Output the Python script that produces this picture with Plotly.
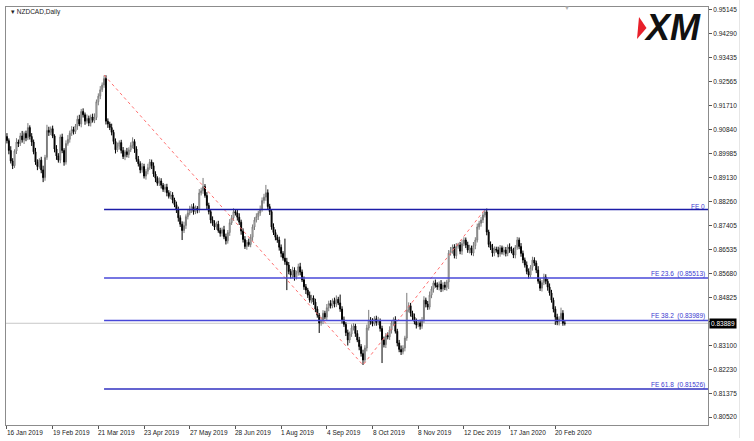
import plotly.graph_objects as go

# ---------------- data ----------------
first_open = 0.9060
closes = [
    0.9045, 0.9010, 0.8972, 0.8955, 0.9008, 0.9040, 0.9035, 0.9062, 0.9048, 0.9071,
    0.9055, 0.9092, 0.9060, 0.9040, 0.9005, 0.8968, 0.8952, 0.8975, 0.8940, 0.8912,
    0.8985, 0.9082, 0.9075, 0.9088, 0.9062, 0.9015, 0.8990, 0.8975, 0.9058, 0.9010,
    0.8968, 0.9035, 0.9050, 0.9072, 0.9085, 0.9078, 0.9098, 0.9122, 0.9105, 0.9150,
    0.9138, 0.9115, 0.9125, 0.9108, 0.9130, 0.9118, 0.9128, 0.9185, 0.9205, 0.9228,
    0.9245, 0.9268, 0.9115, 0.9105, 0.9092, 0.9075, 0.9042, 0.9012, 0.9025, 0.9038,
    0.9010, 0.8988, 0.9005, 0.8995, 0.9012, 0.9028, 0.9042, 0.9015, 0.8978, 0.8962,
    0.8940, 0.8952, 0.8918, 0.8935, 0.8948, 0.8968, 0.8955, 0.8925, 0.8910, 0.8892,
    0.8900, 0.8885, 0.8870, 0.8878, 0.8858, 0.8845, 0.8850, 0.8832, 0.8815, 0.8796,
    0.8768, 0.8745, 0.8722, 0.8740, 0.8772, 0.8785, 0.8798, 0.8808, 0.8790, 0.8802,
    0.8796, 0.8857, 0.8865, 0.8880, 0.8848, 0.8812, 0.8790, 0.8760, 0.8748, 0.8735,
    0.8745, 0.8722, 0.8712, 0.8725, 0.8700, 0.8685, 0.8715, 0.8750, 0.8768, 0.8790,
    0.8785, 0.8770, 0.8752, 0.8720, 0.8690, 0.8665, 0.8680, 0.8672, 0.8698, 0.8735,
    0.8760, 0.8772, 0.8785, 0.8798, 0.8830, 0.8842, 0.8858, 0.8808, 0.8790, 0.8735,
    0.8715, 0.8698, 0.8688, 0.8662, 0.8640, 0.8623, 0.8610, 0.8598, 0.8575, 0.8562,
    0.8580, 0.8555, 0.8570, 0.8592, 0.8573, 0.8545, 0.8520, 0.8508, 0.8490, 0.8472,
    0.8480, 0.8465, 0.8440, 0.8418, 0.8390, 0.8398, 0.8425, 0.8411, 0.8445, 0.8460,
    0.8452, 0.8470, 0.8458, 0.8475, 0.8462, 0.8440, 0.8401, 0.8385, 0.8355, 0.8329,
    0.8350, 0.8372, 0.8379, 0.8352, 0.8329, 0.8305, 0.8280, 0.8257, 0.8300, 0.8372,
    0.8401, 0.8395, 0.8388, 0.8405, 0.8392, 0.8398, 0.8370, 0.8329, 0.8312, 0.8345,
    0.8340, 0.8365, 0.8390, 0.8402, 0.8360, 0.8318, 0.8295, 0.8286, 0.8300, 0.8336,
    0.8437, 0.8452, 0.8425, 0.8411, 0.8395, 0.8383, 0.8390, 0.8378, 0.8401, 0.8472,
    0.8458, 0.8447, 0.8490, 0.8512, 0.8534, 0.8525, 0.8519, 0.8530, 0.8512, 0.8526,
    0.8518, 0.8537, 0.8641, 0.8650, 0.8663, 0.8632, 0.8665, 0.8670, 0.8648, 0.8675,
    0.8688, 0.8670, 0.8652, 0.8660, 0.8641, 0.8668, 0.8688, 0.8735, 0.8748, 0.8760,
    0.8778, 0.8789, 0.8717, 0.8672, 0.8660, 0.8641, 0.8655, 0.8652, 0.8638, 0.8660,
    0.8645, 0.8652, 0.8640, 0.8663, 0.8655, 0.8648, 0.8634, 0.8662, 0.8688, 0.8665,
    0.8640, 0.8616, 0.8598, 0.8575, 0.8562, 0.8590, 0.8616, 0.8605, 0.8580, 0.8540,
    0.8515, 0.8535, 0.8555, 0.8540, 0.8519, 0.8498, 0.8472, 0.8440, 0.8411, 0.8393,
    0.8405, 0.8425, 0.8389, 0.83889,
]
# upper / lower wick lengths in pips
upper_wick_pips = [
    12, 8, 15, 10, 6, 14, 9, 11, 18, 7,
    10, 16, 8, 12, 9, 14, 10, 7, 12, 15,
    9, 20, 13, 8, 11, 6, 14, 10, 9, 12,
    8, 11, 15, 9, 12, 10, 7, 13, 16, 9,
    11, 8, 14, 10, 9, 12, 15, 8, 10, 13,
    9, 11, 12, 10, 8, 14, 9, 11, 13, 8,
    10, 12, 7, 14, 9, 11, 15, 8, 10, 12,
    9, 13, 10, 8, 14, 11, 9, 12, 10, 7,
    13, 10, 8, 11, 12, 9, 14, 10, 8, 11,
    12, 9, 10, 14, 8, 11, 13, 9, 12, 10,
    8, 14, 11, 31, 9, 12, 10, 8, 13, 11,
    9, 12, 10, 8, 14, 11, 9, 13, 10, 12,
    8, 11, 14, 9, 10, 12, 8, 13, 11, 9,
    10, 12, 8, 14, 11, 12, 28, 12, 10, 8,
    13, 11, 9, 12, 10, 8, 70, 14, 11, 9,
    12, 10, 8, 11, 14, 9, 12, 10, 8, 13,
    11, 9, 12, 10, 8, 14, 11, 9, 13, 10,
    12, 8, 11, 14, 9, 30, 10, 12, 8, 11,
    9, 13, 10, 8, 12, 11, 9, 14, 10, 12,
    36, 10, 12, 9, 11, 14, 8, 10, 12, 9,
    11, 13, 10, 8, 12, 9, 11, 14, 10, 8,
    61, 12, 10, 9, 13, 11, 8, 12, 10, 14,
    9, 11, 13, 10, 8, 12, 11, 9, 14, 10,
    12, 8, 11, 13, 9, 10, 12, 8, 11, 14,
    10, 9, 12, 11, 8, 13, 10, 12, 9, 11,
    10, 9, 12, 8, 11, 14, 10, 9, 12, 10,
    8, 12, 11, 9, 13, 10, 12, 8, 11, 9,
    12, 10, 9, 13, 11, 8, 12, 10, 9, 14,
    11, 9, 12, 10, 8, 13, 11, 9, 10, 12,
    9, 20, 11, 8,
]
lower_wick_pips = [
    10, 14, 9, 12, 8, 11, 13, 9, 10, 15,
    12, 8, 11, 14, 9, 10, 13, 8, 12, 16,
    11, 9, 13, 10, 8, 12, 14, 9, 11, 10,
    13, 9, 8, 12, 10, 11, 9, 14, 8, 12,
    10, 13, 9, 11, 12, 8, 10, 9, 13, 11,
    8, 10, 12, 14, 9, 11, 10, 13, 8, 12,
    11, 9, 13, 10, 12, 8, 11, 14, 9, 10,
    12, 10, 9, 13, 11, 8, 12, 10, 14, 9,
    10, 12, 9, 11, 13, 8, 10, 12, 9, 11,
    14, 10, 34, 9, 12, 10, 8, 13, 11, 9,
    12, 10, 9, 11, 8, 13, 10, 12, 9, 11,
    10, 8, 12, 11, 9, 13, 10, 12, 8, 11,
    9, 12, 10, 13, 11, 9, 12, 8, 10, 13,
    11, 9, 12, 10, 8, 11, 13, 9, 12, 10,
    9, 11, 10, 12, 14, 9, 11, 90, 10, 12,
    11, 13, 9, 10, 12, 8, 11, 14, 10, 9,
    12, 10, 11, 9, 36, 10, 12, 8, 11, 13,
    10, 9, 12, 11, 8, 10, 13, 9, 12, 20,
    11, 10, 9, 12, 8, 13, 11, 18, 10, 12,
    9, 11, 10, 8, 12, 10, 11, 83, 10, 12,
    9, 11, 13, 10, 8, 12, 10, 11, 9, 12,
    10, 9, 12, 11, 10, 13, 8, 12, 9, 11,
    12, 10, 9, 11, 13, 8, 10, 12, 11, 9,
    10, 12, 25, 9, 11, 10, 12, 8, 11, 13,
    9, 11, 10, 12, 8, 11, 13, 9, 10, 12,
    11, 9, 12, 10, 8, 13, 11, 9, 12, 10,
    9, 12, 11, 10, 13, 8, 11, 12, 9, 10,
    12, 11, 9, 10, 13, 8, 12, 10, 11, 9,
    10, 12, 9, 11, 13, 10, 9, 12, 28, 11,
    12, 10, 9, 8,
]

date_labels = ["16 Jan 2019", "19 Feb 2019", "21 Mar 2019", "23 Apr 2019", "27 May 2019",
               "28 Jun 2019", "1 Aug 2019", "4 Sep 2019", "8 Oct 2019", "8 Nov 2019",
               "12 Dec 2019", "17 Jan 2020", "20 Feb 2020"]
bars_per_label = 24

price_ticks = [0.95145, 0.94290, 0.93435, 0.92565, 0.91710, 0.90840, 0.89985, 0.89130,
               0.88260, 0.87405, 0.86535, 0.85680, 0.84825, 0.83955, 0.83100, 0.82230,
               0.81375, 0.80520]
# the 0.83955 label is covered by the current-price box in the reference
price_tick_text = ["0.95145", "0.94290", "0.93435", "0.92565", "0.91710", "0.90840",
                   "0.89985", "0.89130", "0.88260", "0.87405", "0.86535", "0.85680",
                   "0.84825", "", "0.83100", "0.82230", "0.81375", "0.80520"]

fe_names = ["FE 0", "FE 23.6  (0.85513)", "FE 38.2  (0.83989)", "FE 61.8  (0.81526)"]
fe_levels = [0.87976, 0.85513, 0.83989, 0.81526]

# swing points of the expansion tool: (bar index, price)
swing_bars = [51, 187, 251]
swing_prices = [0.92809, 0.82390, 0.87976]

last_price = 0.83889

# ---------------- build OHLC ----------------
n = min(len(closes), len(upper_wick_pips), len(lower_wick_pips))
closes = closes[:n]
opens = [first_open] + closes[:-1]
highs = [max(o, c) + u / 10000 for o, c, u in zip(opens, closes, upper_wick_pips)]
lows = [min(o, c) - l / 10000 for o, c, l in zip(opens, closes, lower_wick_pips)]
xs = list(range(n))

# ---------------- geometry ----------------
W, H = 754, 441
L, R, T, B = 6, 708, 7, 425
x_range = [-0.5, 368.2]
y_range = [0.80234, 0.95252]
FONT = "Liberation Sans"


def px(xp):
    return (xp - L) / (R - L)


def py(yp):
    return (B - yp) / (B - T)


fig = go.Figure()

fig.add_trace(go.Candlestick(
    x=xs, open=opens, high=highs, low=lows, close=closes,
    increasing=dict(line=dict(color="#7a7a7a", width=1), fillcolor="#ffffff"),
    decreasing=dict(line=dict(color="#000000", width=1), fillcolor="#000000"),
    whiskerwidth=0, showlegend=False, hoverinfo="skip",
))

# red dotted expansion path
fig.add_trace(go.Scatter(
    x=swing_bars, y=swing_prices, mode="lines",
    line=dict(color="#ff7070", width=1, dash="dot"),
    showlegend=False, hoverinfo="skip",
))

shapes = []
# last price line
shapes.append(dict(type="line", xref="paper", yref="y", x0=0, x1=1,
                   y0=last_price, y1=last_price, line=dict(color="#c8c8c8", width=1),
                   layer="below"))
# FE levels
fe_colors = ["#1c1ca8", "#4848d8", "#4848d8", "#3030c0"]
for lvl, col in zip(fe_levels, fe_colors):
    shapes.append(dict(type="line", xref="x", yref="y", x0=swing_bars[0], x1=x_range[1],
                       y0=lvl, y1=lvl, line=dict(color=col, width=1.6)))
# window edge line
shapes.append(dict(type="line", xref="paper", yref="paper", x0=px(739.5), x1=px(739.5),
                   y0=py(0), y1=py(438), line=dict(color="#e6e6e6", width=1)))
# XM logo red wedge
shapes.append(dict(type="path", xref="paper", yref="paper",
                   path=f"M {px(639)} {py(17)} L {px(646.5)} {py(28)} L {px(637)} {py(39)} Z",
                   fillcolor="#e8202a", line=dict(width=0)))

annotations = []
for lvl, name in zip(fe_levels, fe_names):
    annotations.append(dict(x=1, xref="paper", y=lvl, yref="y", text=name,
                            xanchor="right", yanchor="bottom", showarrow=False,
                            font=dict(family=FONT, size=6.5, color="#3a3ad0"),
                            xshift=-1, yshift=-2))
# date labels (left aligned at tick)
for k, lab in enumerate(date_labels):
    annotations.append(dict(x=k * bars_per_label, xref="x", y=0, yref="paper", text=lab,
                            xanchor="left", yanchor="top", showarrow=False, xshift=-2,
                            yshift=-2,
                            font=dict(family=FONT, size=6.5, color="#222222")))
# last price box
annotations.append(dict(x=1, xref="paper", y=last_price, yref="y", text="0.83889",
                        xanchor="left", yanchor="middle", showarrow=False, xshift=1,
                        bgcolor="#000000", borderpad=1,
                        font=dict(family=FONT, size=6.5, color="#ffffff")))
# title
annotations.append(dict(x=px(9), xref="paper", y=py(12), yref="paper",
                        text="▾ NZDCAD,Daily", xanchor="left", yanchor="middle",
                        showarrow=False,
                        font=dict(family=FONT, size=6.5, color="#222222")))
# shift marker
annotations.append(dict(x=px(567), xref="paper", y=py(8), yref="paper", text="▼",
                        xanchor="center", yanchor="middle", showarrow=False,
                        font=dict(size=6, color="#b0b0b0")))
# XM logo text
annotations.append(dict(x=px(642), xref="paper", y=py(28), yref="paper",
                        text="<b><i>XM</i></b>", xanchor="left", yanchor="middle",
                        showarrow=False,
                        font=dict(family=FONT, size=36, color="#111111")))

fig.update_layout(
    width=W, height=H,
    margin=dict(l=L, r=W - R, t=T, b=H - B, autoexpand=False),
    paper_bgcolor="#ffffff", plot_bgcolor="#ffffff",
    shapes=shapes, annotations=annotations,
    showlegend=False,
    xaxis=dict(range=x_range, rangeslider=dict(visible=False), showgrid=False,
               zeroline=False, showline=True, linecolor="#8c8c8c", mirror=True,
               tickmode="array", tickvals=[k * bars_per_label for k in range(len(date_labels))],
               ticktext=["" for _ in date_labels], ticks="outside", ticklen=3,
               tickcolor="#555555"),
    yaxis=dict(range=y_range, side="right", showgrid=False, zeroline=False,
               showline=True, linecolor="#8c8c8c", mirror=True,
               tickmode="array", tickvals=price_ticks,
               ticktext=price_tick_text, ticks="outside", ticklen=3,
               tickcolor="#555555",
               tickfont=dict(family=FONT, size=6.5, color="#222222")),
)

fig.write_html("out.html", config={"displayModeBar": False},
               post_script="document.body.style.margin='0';document.body.style.padding='0';")
